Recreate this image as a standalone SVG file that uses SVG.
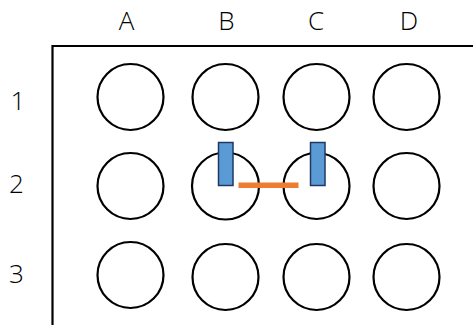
<svg xmlns="http://www.w3.org/2000/svg" width="473" height="325" viewBox="0 0 473 325">
<style>
.lbl{font-family:"Open Sans","Liberation Sans",sans-serif;font-weight:300;font-size:26px;fill:#000;text-anchor:middle}
.well{fill:none;stroke:#000;stroke-width:2.2}
.probe{fill:#5B9BD5;stroke:#203864;stroke-width:1.5}
</style>
<rect width="473" height="325" fill="#fff"/>
<g id="plate"><path d="M52.5,330 V46 H480" fill="none" stroke="#000" stroke-width="2.2"/></g>
<g id="col-labels">
<text class="lbl" x="126.5" y="30">A</text>
<text class="lbl" x="226.5" y="30">B</text>
<text class="lbl" x="316" y="30">C</text>
<text class="lbl" x="409" y="30">D</text>
</g>
<g id="row-labels">
<text class="lbl" x="18" y="110">1</text>
<text class="lbl" x="16.5" y="193">2</text>
<text class="lbl" x="16.5" y="283">3</text>
</g>
<g id="wells">
<circle class="well" cx="130.5" cy="97" r="33"/>
<circle class="well" cx="225.5" cy="97" r="33"/>
<circle class="well" cx="316.5" cy="97" r="33"/>
<circle class="well" cx="406.5" cy="97" r="33"/>
<circle class="well" cx="130.5" cy="186" r="33"/>
<circle class="well" cx="225.5" cy="186" r="33.5"/>
<circle class="well" cx="316.5" cy="186" r="33"/>
<circle class="well" cx="406.5" cy="186" r="33"/>
<circle class="well" cx="130.5" cy="275" r="33"/>
<circle class="well" cx="225.5" cy="277" r="33"/>
<circle class="well" cx="316.5" cy="277" r="33"/>
<circle class="well" cx="406.5" cy="277" r="33"/>
</g>
<g id="electrodes">
<rect class="probe" x="218.5" y="142.5" width="14.5" height="43"/>
<rect class="probe" x="310.5" y="142.5" width="14.5" height="43"/>
</g>
<g id="connectors">
<rect x="238.5" y="182.5" width="60" height="5.5" fill="#ED7D31"/>
</g>
</svg>
